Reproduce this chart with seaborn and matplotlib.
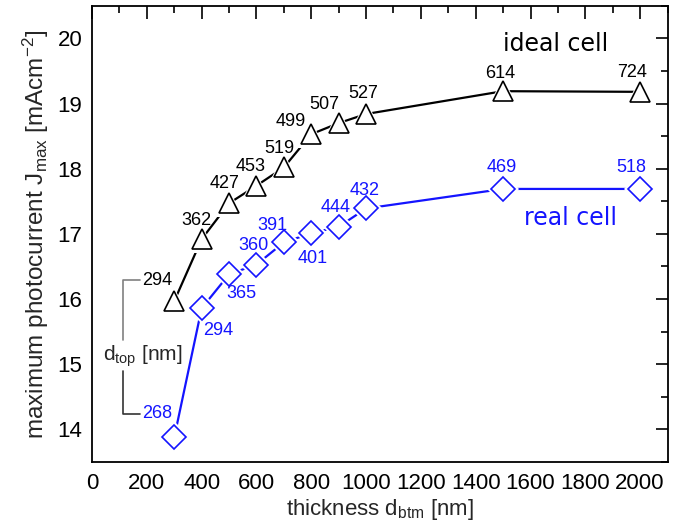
import matplotlib
matplotlib.use("Agg")
import matplotlib.pyplot as plt
import seaborn as sns
import pandas as pd
from matplotlib.ticker import MultipleLocator

thickness = [300, 400, 500, 600, 700, 800, 900, 1000, 1500, 2000]
ideal_j = [15.97, 16.92, 17.47, 17.74, 18.02, 18.53, 18.70, 18.84, 19.19, 19.18]
real_j = [13.88, 15.86, 16.38, 16.53, 16.87, 17.01, 17.11, 17.39, 17.69, 17.69]
ideal_dtop = ["294", "362", "427", "453", "519", "499", "507", "527", "614", "724"]
real_dtop = ["268", "294", "365", "360", "391", "401", "444", "432", "469", "518"]

sns.set_theme(style="white")
plt.rcParams["font.family"] = ["Liberation Sans", "DejaVu Sans"]
plt.rcParams["mathtext.fontset"] = "custom"
plt.rcParams["mathtext.rm"] = "Liberation Sans"
plt.rcParams["mathtext.it"] = "Liberation Sans"

df_ideal = pd.DataFrame({"d": thickness, "J": ideal_j})
df_real = pd.DataFrame({"d": thickness, "J": real_j})

blue = "#1414ff"

fig = plt.figure(figsize=(6.77, 5.28), dpi=100)
ax = fig.add_axes([0.136, 0.125, 0.85, 0.864])

# connecting lines
sns.lineplot(data=df_ideal, x="d", y="J", ax=ax, color="black", lw=1.6, sort=False)
sns.lineplot(data=df_real, x="d", y="J", ax=ax, color=blue, lw=1.6, sort=False)
# white halo so the lines stop short of the symbols
sns.lineplot(data=df_ideal, x="d", y="J", ax=ax, linestyle="none", marker="^",
             markersize=20, markerfacecolor="white", markeredgecolor="white",
             markeredgewidth=0, sort=False)
sns.lineplot(data=df_real, x="d", y="J", ax=ax, linestyle="none", marker="D",
             markersize=16, markerfacecolor="white", markeredgecolor="white",
             markeredgewidth=0, sort=False)
# symbols
sns.lineplot(data=df_ideal, x="d", y="J", ax=ax, linestyle="none", marker="^",
             markersize=15, markerfacecolor="white", markeredgecolor="black",
             markeredgewidth=1.2, sort=False)
sns.lineplot(data=df_real, x="d", y="J", ax=ax, linestyle="none", marker="D",
             markersize=12.5, markerfacecolor="white", markeredgecolor=blue,
             markeredgewidth=1.2, sort=False)

fs = 13
# label offsets (pixels) of label centre relative to marker centre
ideal_off = [None, (-5, 19), (-5, 20), (-6, 19), (-5, 19), (-21, 13), (-14, 19),
             (-3, 20), (-3, 18), (-8, 19)]
for x, y, lab, off in zip(thickness, ideal_j, ideal_dtop, ideal_off):
    if off is None:
        continue
    ax.annotate(lab, (x, y), xytext=off, textcoords="offset pixels",
                ha="center", va="center", fontsize=fs, color="black")
real_off = [None, (17, -22), (12, -19), (-3, 19), (-11, 17), (1, -25), (-3, 19),
            (-1, 18), (-1, 21), (-9, 21)]
for x, y, lab, off in zip(thickness, real_j, real_dtop, real_off):
    if off is None:
        continue
    ax.annotate(lab, (x, y), xytext=off, textcoords="offset pixels",
                ha="center", va="center", fontsize=fs, color=blue)

# d_top bracket
ax.text(182, 16.29, ideal_dtop[0], fontsize=fs, color="black", ha="left", va="center")
ax.text(182, 14.24, real_dtop[0], fontsize=fs, color=blue, ha="left", va="center")
ax.plot([175, 113, 113], [16.29, 16.29, 15.37], color="gray", lw=1.2)
ax.plot([113, 113, 175], [14.89, 14.24, 14.24], color="#333333", lw=1.2)
ax.text(40, 15.13, r"d$_{\mathrm{top}}$ [nm]", fontsize=15, ha="left", va="center")

ax.text(1690, 19.92, "ideal cell", fontsize=17, ha="center", va="center",
        family=["DejaVu Sans"], color="black")
ax.text(1745, 17.24, "real cell", fontsize=17, ha="center", va="center",
        family=["DejaVu Sans"], color=blue)

ax.set_xlim(0, 2100)
ax.set_ylim(13.5, 20.5)
ax.xaxis.set_major_locator(MultipleLocator(200))
ax.xaxis.set_minor_locator(MultipleLocator(100))
ax.yaxis.set_major_locator(MultipleLocator(1))
ax.yaxis.set_minor_locator(MultipleLocator(0.5))
ax.tick_params(which="both", direction="in", top=True, right=True,
               labelsize=16, colors="black", width=1.2)
ax.tick_params(which="major", length=9)
ax.tick_params(which="minor", length=5)
ax.tick_params(axis="x", pad=8)
ax.tick_params(axis="y", pad=7)
for s in ax.spines.values():
    s.set_color("black")
    s.set_linewidth(1.3)

ax.set_xlabel(r"thickness d$_{\mathrm{btm}}$ [nm]", fontsize=16, labelpad=2)
ax.set_ylabel(r"maximum photocurrent J$_{\mathrm{max}}$ [mAcm$^{-2}$]", fontsize=17.5, labelpad=5)

fig.savefig("out.png", dpi=100)
